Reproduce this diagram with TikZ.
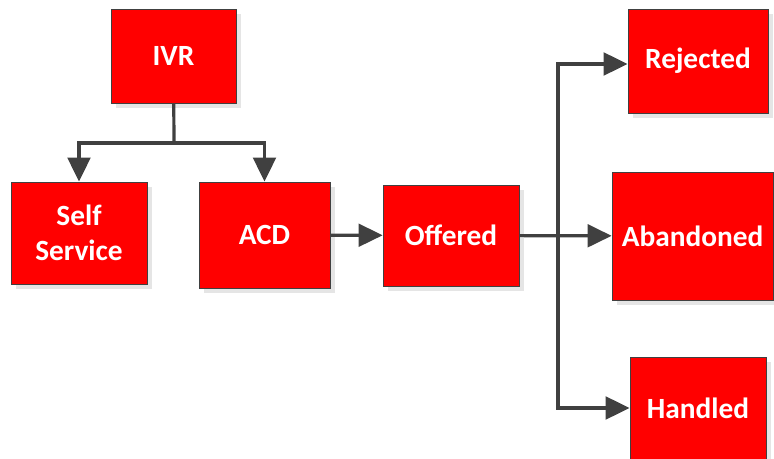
\documentclass[tikz,border=0pt]{standalone}
\usepackage{fontspec}
\setmainfont{Carlito}
\usepackage{tikz}
\usetikzlibrary{arrows.meta,shadows}
\definecolor{boxred}{RGB}{255,0,0}
\definecolor{edgegray}{RGB}{64,64,64}
\tikzstyle{block} = [rectangle, draw=edgegray, line width=0.6pt, fill=boxred, text=white, font=\fontsize{22}{26}\selectfont\bfseries, align=center, inner sep=0pt, drop shadow={shadow xshift=4pt, shadow yshift=-4pt, fill=black!10, opacity=1}]
\tikzstyle{line} = [draw, line width=2.4pt, color=edgegray, -{Triangle[length=18pt,width=17pt]}]

\begin{document}
\begin{tikzpicture}[x=0.75pt, y=-0.75pt]
		\useasboundingbox (0,0) rectangle (774,459);
		% Place nodes
		\node [block, minimum width=93.75pt, minimum height=70.5pt] (ivr) at (173.5,56) {IVR};
		\node [block, minimum width=102pt, minimum height=76.5pt] (self) at (79,233) {Self\\Service};
		\node [block, minimum width=98.25pt, minimum height=79.5pt] (acd) at (264.5,235) {ACD};
		\node [block, minimum width=102pt, minimum height=75.75pt] (offered) at (451,235.5) {Offered};
		\node [block, minimum width=105pt, minimum height=78pt] (rejected) at (698,61) {Rejected};
		\node [block, minimum width=120.75pt, minimum height=96pt] (abandoned) at (692.5,236) {Abandoned};
		\node [block, minimum width=102pt, minimum height=76.5pt] (handled) at (698,408) {Handled};
		\coordinate (fork) at (174,143);
		\coordinate (split) at (558,236);
		% Draw edges
		\draw [line width=2.4pt, color=edgegray] (ivr) -- (fork);
		\path [line] (fork) -| (self);
		\path [line] (fork) -| (acd.north);
		\path [line] (acd) -- (offered);
		\path [line] (offered) -- (abandoned);
		\path [line] (split) |- ([yshift=-2.25pt]rejected.west);
		\path [line] (split) |- (handled);
	\end{tikzpicture}
\end{document}
